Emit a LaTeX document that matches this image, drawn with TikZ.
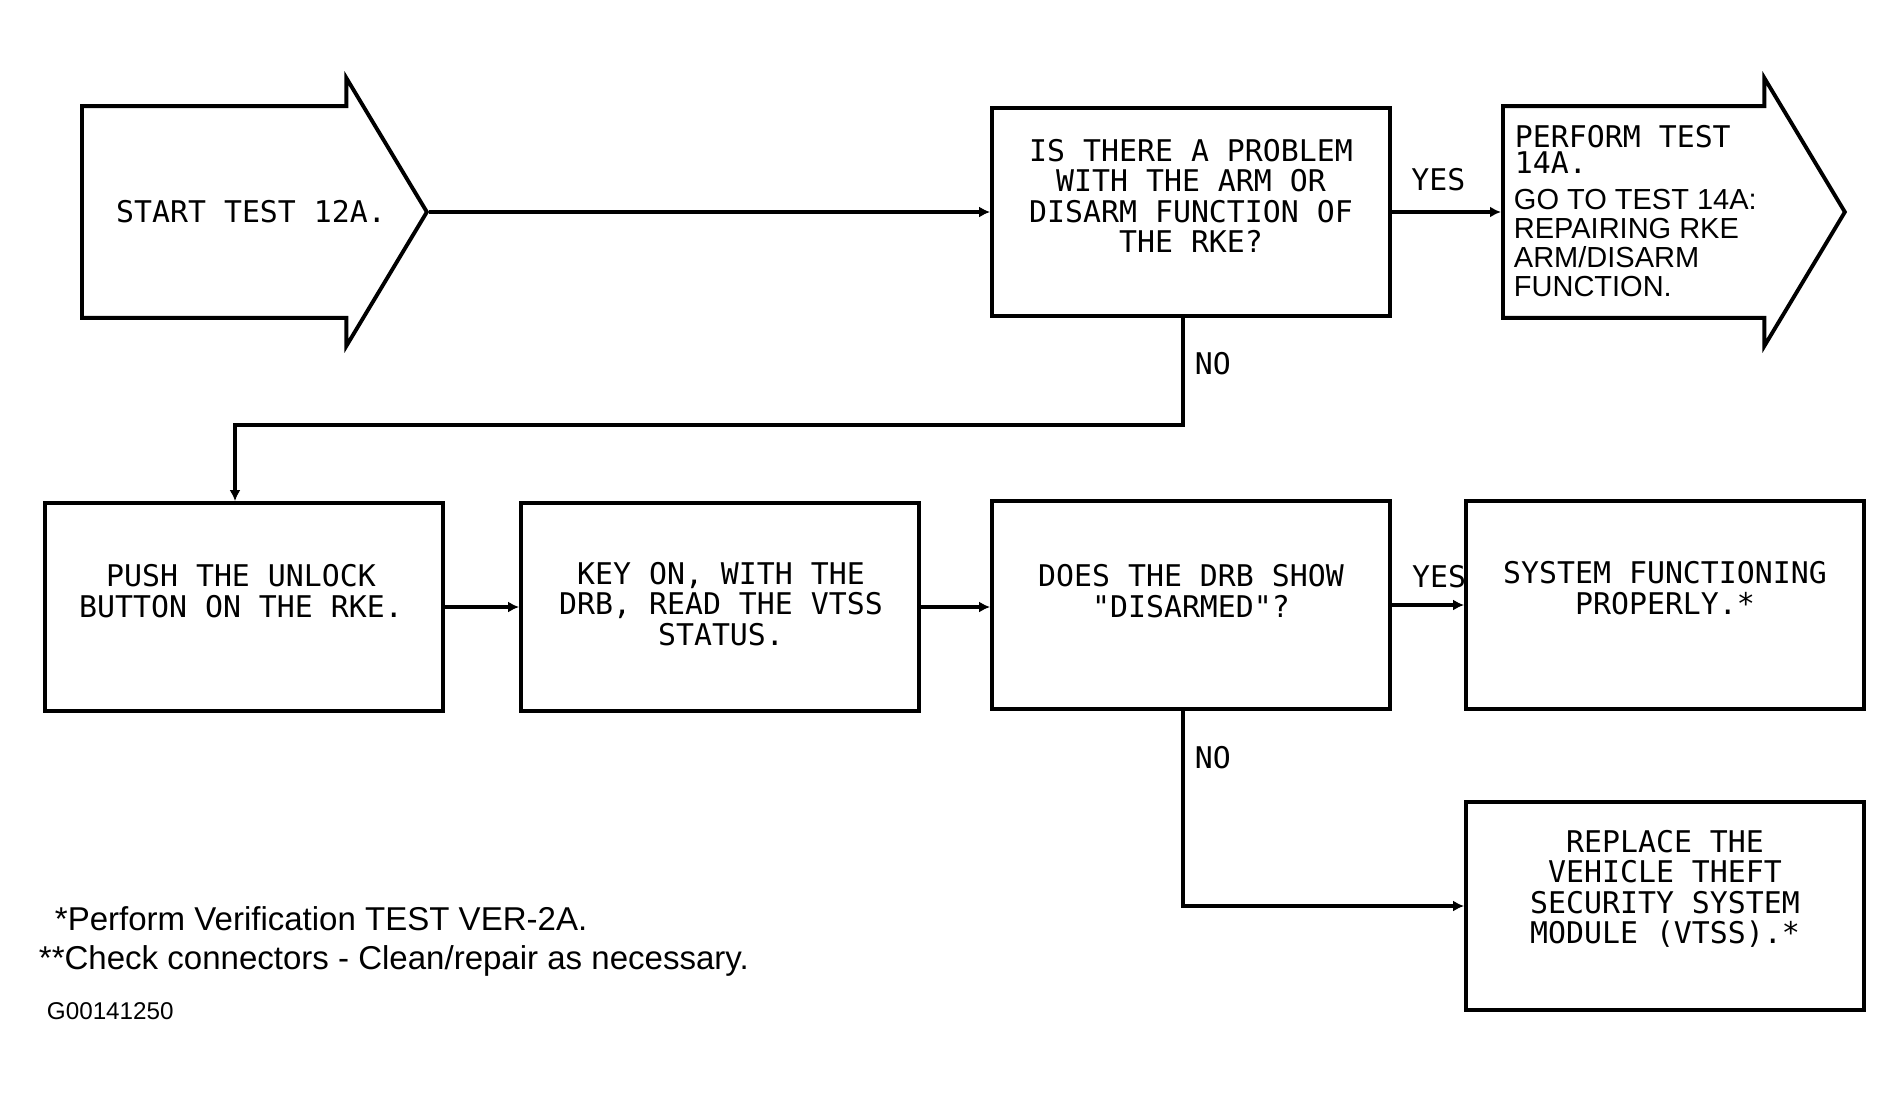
\documentclass[tikz,border=0pt]{standalone}
\usepackage{fontspec}
\setmainfont{Liberation Sans}
\newfontfamily\plotfont{DejaVu Sans Mono}
\usetikzlibrary{shapes.arrows, arrows.meta}

\begin{document}
\begin{tikzpicture}[
    x=0.02cm, y=-0.02cm,
    line width=2.2pt,
    box/.style={draw, rectangle, minimum width=7.96cm, minimum height=4.16cm, inner sep=0pt},
    bigarrow/.style={draw, single arrow, minimum height=6.9cm, minimum width=5.28cm,
        single arrow head extend=0.56cm, single arrow tip angle=118,
        inner xsep=0pt, inner ysep=2.08cm},
    plot/.style={font=\plotfont\fontsize{17}{17.3}\selectfont, align=center, inner sep=0pt},
    lbl/.style={font=\plotfont\fontsize{17}{17.3}\selectfont, inner sep=0pt},
    note/.style={font=\fontsize{18.8}{18.8}\selectfont, inner sep=0pt, anchor=base west},
    flow/.style={-{Latex[length=0.22cm, width=0.22cm]}}
]
    \useasboundingbox (0,0) rectangle (1903,1096);

    % Arrows and boxes
    \node[bigarrow, anchor=tail] (start)   at (80,212)   {};
    \node[box]                   (problem) at (1191,212) {};
    \node[bigarrow, anchor=tail, minimum height=6.84cm] (perform) at (1501,212) {};

    \node[box] (push)    at (244,607)  {};
    \node[box] (keyon)   at (720,607)  {};
    \node[box] (drb)     at (1191,605) {};
    \node[box] (working) at (1665,605) {};
    \node[box] (replace) at (1665,906) {};

    % Texts
    \node[plot] (starttext)   at (251,212)  {START TEST 12A.};
    \node[plot] (problemtext) at (1191,196) {IS THERE A PROBLEM\\WITH THE ARM OR\\DISARM FUNCTION OF\\THE RKE?};
    \node[plot, align=left, anchor=north west, font=\plotfont\fontsize{17}{15.3}\selectfont]
        (performtext) at (1513,123) {PERFORM TEST\\14A.};
    \node[align=left, anchor=north west, inner sep=0pt, font=\fontsize{16.5}{16.5}\selectfont]
        (performnote) at (1512,187) {GO TO TEST 14A:\\REPAIRING RKE\\ARM/DISARM\\FUNCTION.};
    \node[plot] (pushtext)    at (241,591)  {PUSH THE UNLOCK\\BUTTON ON THE RKE.};
    \node[plot] (keyontext)   at (721,604)  {KEY ON, WITH THE\\DRB, READ THE VTSS\\STATUS.};
    \node[plot] (drbtext)     at (1191,591) {DOES THE DRB SHOW\\"DISARMED"?};
    \node[plot] (workingtext) at (1665,588) {SYSTEM FUNCTIONING\\PROPERLY.*};
    \node[plot] (replacetext) at (1665,889) {REPLACE THE\\VEHICLE THEFT\\SECURITY SYSTEM\\MODULE (VTSS).*};

    % Connectors
    \draw[flow] (start.tip) -- (problem.west);
    \draw[flow] (problem.east) -- node[lbl, above=0.38cm, xshift=-0.16cm] (yes1) {YES} (perform.tail);
    \draw[flow] ([xshift=-0.16cm]problem.south)
        -- node[lbl, anchor=west, xshift=0.2cm, pos=0.43] (no1) {NO} ++(0,107)
        -| ([xshift=-0.18cm]push.north);
    \draw[flow] (push.east) -- (keyon.west);
    \draw[flow] (keyon.east) -- (keyon.east -| drb.west);
    \draw[flow] (drb.east) -- node[lbl, above=0.3cm, xshift=0.22cm] (yes2) {YES} (working.west);
    \draw[flow] ([xshift=-0.16cm]drb.south)
        |- node[lbl, anchor=west, xshift=0.2cm, pos=0.12] (no2) {NO} (replace.west);

    % Footnotes
    \node[note] (note1) at (53,930) {*Perform Verification TEST VER-2A.};
    \node[note] (note2) at (37,969) {**Check connectors - Clean/repair as necessary.};
    \node[note, font=\fontsize{13.8}{13.8}\selectfont] (figid) at (45,1019) {G00141250};
\end{tikzpicture}
\end{document}
